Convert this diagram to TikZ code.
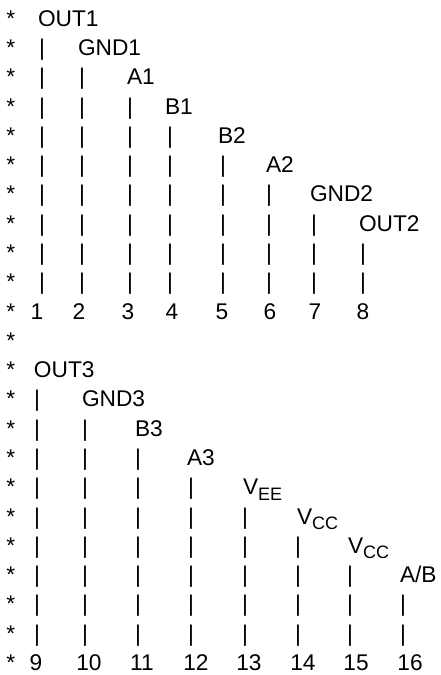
\documentclass[tikz,border=0pt]{standalone}
\usepackage{fontspec}
\setmainfont{Liberation Sans}
\newcommand\pinsub[1]{\raisebox{-5.5pt}{\fontsize{18}{20}\selectfont #1}}
\begin{document}
\begin{tikzpicture}[x=1pt,y=-1pt,
  txt/.style={inner sep=0pt, outer sep=0pt, font=\fontsize{22.7}{27}\selectfont, anchor=base west},
  pin/.style={txt, anchor=base},
  barmark/.style={txt, anchor=base}]
\useasboundingbox (0,0) rectangle (440,675);
\foreach \r in {1,...,23}{
  \node[txt] (star\r) at (6.3, {26.3+(\r-1)*29.28}) {*};
}
\foreach \k/\lx/\bx/\dx/\t in {
 1/38/42/37/OUT1, 2/78/82/79/GND1, 3/127/130/128/A1, 4/165/170/172/B1,
 5/218/223/222/B2, 6/266/269/270/A2, 7/310/314/315/GND2, 8/359/363/363/OUT2,
 9/34/37/36/OUT3, 10/82/85/89/GND3, 11/135/138/142/B3, 12/187/191/196/A3,
 13/243/245/249/{V\pinsub{EE}}, 14/297/298/303/{V\pinsub{CC}},
 15/348/350/356/{V\pinsub{CC}}, 16/400/403/410/{A/B}}{
  \pgfmathtruncatemacro\off{\k>8 ? 12 : 0}
  \pgfmathtruncatemacro\j{\k>8 ? \k-8 : \k}
  \pgfmathtruncatemacro\lr{\off+\j}
  \pgfmathtruncatemacro\bs{\lr+1}
  \pgfmathtruncatemacro\be{\off+10}
  \pgfmathtruncatemacro\nr{\off+11}
  \node[txt] (lab\k) at (\lx, {26.3+(\lr-1)*29.28}) {\t};
  \foreach \r in {\bs,...,\be}{
    \node[barmark] (bar\k-\r) at (\bx, {26.3+(\r-1)*29.28}) {|};
  }
  \node[pin] (num\k) at (\dx, {26.3+(\nr-1)*29.28}) {\k};
}
\end{tikzpicture}
\end{document}
